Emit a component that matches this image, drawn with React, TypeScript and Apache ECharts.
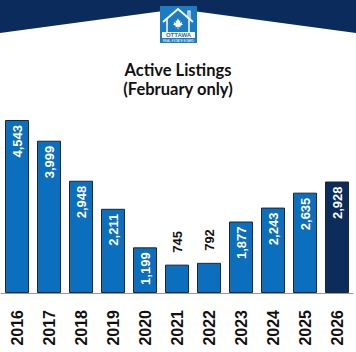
import React, { useEffect, useRef } from "react";
import * as echarts from "echarts";

const years = ["2016", "2017", "2018", "2019", "2020", "2021", "2022", "2023", "2024", "2025", "2026"];
const listings = [4543, 3999, 2948, 2211, 1199, 745, 792, 1877, 2243, 2635, 2928];
const titleLines = ["Active Listings", "(February only)"];

const BAR_BLUE = "#0b6fbe";
const BAR_NAVY = "#0c2c5c";
const BORDER = "#1b2733";

const leaf = [
  [0, -5.5], [1, -3], [2.3, -3.6], [1.8, -0.9], [4.1, -2], [3.5, -0.3], [4.8, 0.5],
  [2.1, 2], [2.4, 3], [0.35, 2.5], [0.35, 5], [-0.35, 5], [-0.35, 2.5], [-2.4, 3],
  [-2.1, 2], [-4.8, 0.5], [-3.5, -0.3], [-4.1, -2], [-1.8, -0.9], [-2.3, -3.6], [-1, -3],
];

export default function App() {
  const ref = useRef<HTMLDivElement>(null);
  useEffect(() => {
    if (!ref.current) return;
    const chart = echarts.init(ref.current, null, { renderer: "svg" });
    const last = listings.length - 1;
    const data = listings.map((v, i) => {
      const outside = v < 1000;
      return {
        value: v,
        itemStyle: { color: i === last ? BAR_NAVY : BAR_BLUE },
        label: outside
          ? { position: "top", distance: 12, align: "left", verticalAlign: "middle", color: "#111" }
          : { position: "insideTop", distance: 5, align: "right", verticalAlign: "middle", color: "#fff" },
      };
    });
    chart.setOption({
      animation: false,
      title: {
        text: titleLines.join("\n"),
        left: "center",
        top: 55,
        textStyle: {
          fontSize: 16.5,
          fontWeight: "bold",
          lineHeight: 19,
          color: "#111",
          fontFamily: "Lato",
        },
      },
      grid: { left: 1, right: 3, top: 102.6, bottom: 59, containLabel: false },
      xAxis: {
        type: "category",
        data: years,
        axisLine: { lineStyle: { color: "#999", width: 1 } },
        axisTick: { alignWithLabel: true, length: 8, lineStyle: { color: "#999" } },
        axisLabel: {
          rotate: 90,
          margin: 17,
          fontSize: 16,
          fontWeight: "bold",
          color: "#111",
          fontFamily: "Liberation Sans",
        },
      },
      yAxis: { type: "value", min: 0, max: 5000, show: false },
      series: [
        {
          type: "bar",
          data,
          barWidth: 24,
          itemStyle: { borderColor: BORDER, borderWidth: 1 },
          label: {
            show: true,
            rotate: 90,
            fontSize: 13,
            fontWeight: "bold",
            fontFamily: "Liberation Sans",
            formatter: (p: any) => Number(p.value).toLocaleString("en-US"),
          },
        },
      ],
      graphic: [
        {
          type: "polygon",
          shape: { points: [[0, 0], [356, 0], [356, 33], [178, 9], [0, 33]] },
          style: { fill: "#0b2b5c" },
        },
        { type: "rect", shape: { x: 160, y: 6, width: 37, height: 37 }, style: { fill: "#1a7cc4" } },
        {
          type: "polyline",
          shape: { points: [[163, 22], [178, 9], [193, 22]] },
          style: { stroke: "#fff", lineWidth: 2, fill: "none" },
        },
        {
          type: "polyline",
          shape: { points: [[167, 19], [167, 32]] },
          style: { stroke: "#fff", lineWidth: 1.5, fill: "none" },
        },
        {
          type: "polyline",
          shape: { points: [[189, 19], [189, 32]] },
          style: { stroke: "#fff", lineWidth: 1.5, fill: "none" },
        },
        {
          type: "polyline",
          shape: { points: [[188, 17], [188, 11], [190, 11], [190, 19]] },
          style: { stroke: "#fff", lineWidth: 1.2, fill: "none" },
        },
        {
          type: "polygon",
          x: 178,
          y: 24,
          scaleX: 1.05,
          scaleY: 1.05,
          shape: { points: leaf },
          style: { fill: "#fff" },
        },
        { type: "rect", shape: { x: 162, y: 32, width: 33, height: 6 }, style: { fill: "#fff" } },
        {
          type: "text",
          x: 178.5,
          y: 35,
          style: {
            text: "OTTAWA",
            fill: "#1a6fb5",
            font: "bold 6px 'Liberation Sans'",
            textAlign: "center",
            textVerticalAlign: "middle",
          },
        },
        {
          type: "text",
          x: 178.5,
          y: 40.5,
          style: {
            text: "REAL ESTATE BOARD",
            fill: "#fff",
            font: "3px 'Liberation Sans'",
            textAlign: "center",
            textVerticalAlign: "middle",
          },
        },
      ],
    });
    return () => chart.dispose();
  }, []);
  return (
    <div
      ref={ref}
      style={{ position: "absolute", left: 0, top: 0, width: 356, height: 352, background: "#fff" }}
    />
  );
}
